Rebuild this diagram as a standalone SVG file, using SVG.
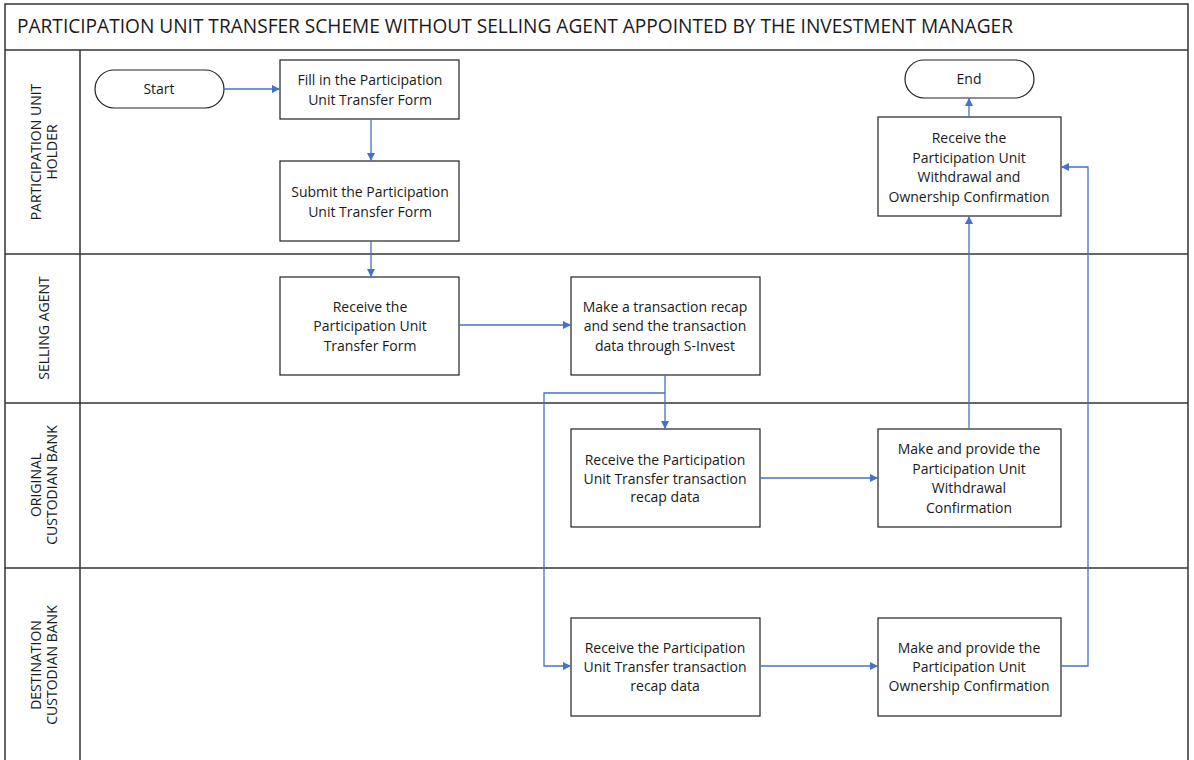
<svg xmlns="http://www.w3.org/2000/svg" width="1194" height="760" viewBox="0 0 1194 760">
<style>
.lane{fill:none;stroke:#333;stroke-width:1.5}
.box{fill:#fff;stroke:#222;stroke-width:1.2}
.t{font-family:"Open Sans","Noto Sans","DejaVu Sans",sans-serif;font-size:14px;fill:#1a1a1a;text-anchor:middle}
.lt{font-family:"Open Sans","Noto Sans","DejaVu Sans",sans-serif;font-size:14px;fill:#1a1a1a;text-anchor:middle}
.c{fill:none;stroke:#4472C4;stroke-width:1.3}
</style>
<defs>
<marker id="a" viewBox="0 0 10 10" refX="10" refY="5" markerWidth="8" markerHeight="8" markerUnits="userSpaceOnUse" orient="auto">
<path d="M0,0 L10,5 L0,10 z" fill="#4472C4"/>
</marker>
</defs>
<rect width="1194" height="760" fill="#fff"/>
<g id="lanes">
<rect class="lane" x="5" y="4" width="1183" height="770"/>
<line class="lane" x1="5" y1="50" x2="1188" y2="50"/>
<line class="lane" x1="5" y1="254" x2="1188" y2="254"/>
<line class="lane" x1="5" y1="403" x2="1188" y2="403"/>
<line class="lane" x1="5" y1="568" x2="1188" y2="568"/>
<line class="lane" x1="80" y1="50" x2="80" y2="760"/>
<text x="17" y="33" font-family="'Open Sans','Noto Sans',sans-serif" font-size="19.2" fill="#1a1a1a" textLength="996" lengthAdjust="spacingAndGlyphs">PARTICIPATION UNIT TRANSFER SCHEME WITHOUT SELLING AGENT APPOINTED BY THE INVESTMENT MANAGER</text>
<text class="lt" transform="translate(41,152) rotate(-90)">PARTICIPATION UNIT<tspan x="0" dy="16">HOLDER</tspan></text>
<text class="lt" transform="translate(49,328) rotate(-90)">SELLING AGENT</text>
<text class="lt" transform="translate(41,485) rotate(-90)">ORIGINAL<tspan x="0" dy="16">CUSTODIAN BANK</tspan></text>
<text class="lt" transform="translate(41,665) rotate(-90)">DESTINATION<tspan x="0" dy="16">CUSTODIAN BANK</tspan></text>
</g>
<g id="start"><rect class="box" x="95" y="70" width="129" height="38" rx="19"/><text class="t" x="159" y="94">Start</text></g>
<g id="fill"><rect class="box" x="280" y="60" width="179" height="59"/><text class="t" x="370" y="85">Fill in the Participation<tspan x="370" dy="19.5">Unit Transfer Form</tspan></text></g>
<g id="submit"><rect class="box" x="280" y="161" width="179" height="80"/><text class="t" x="370" y="197">Submit the Participation<tspan x="370" dy="19.5">Unit Transfer Form</tspan></text></g>
<g id="receiveSA"><rect class="box" x="280" y="277" width="179" height="98"/><text class="t" x="370" y="312">Receive the<tspan x="370" dy="19.3">Participation Unit</tspan><tspan x="370" dy="19.3">Transfer Form</tspan></text></g>
<g id="recap"><rect class="box" x="571" y="277" width="189" height="98"/><text class="t" x="665" y="312">Make a transaction recap<tspan x="665" dy="19.3">and send the transaction</tspan><tspan x="665" dy="19.3">data through S-Invest</tspan></text></g>
<g id="receiveOCB"><rect class="box" x="571" y="429" width="189" height="98"/><text class="t" x="665" y="465">Receive the Participation<tspan x="665" dy="18.7">Unit Transfer transaction</tspan><tspan x="665" dy="18.7">recap data</tspan></text></g>
<g id="makeOCB"><rect class="box" x="878" y="429" width="183" height="98"/><text class="t" x="969" y="454">Make and provide the<tspan x="969" dy="19.6">Participation Unit</tspan><tspan x="969" dy="19.6">Withdrawal</tspan><tspan x="969" dy="19.6">Confirmation</tspan></text></g>
<g id="receiveDCB"><rect class="box" x="571" y="618" width="189" height="98"/><text class="t" x="665" y="653">Receive the Participation<tspan x="665" dy="19">Unit Transfer transaction</tspan><tspan x="665" dy="19">recap data</tspan></text></g>
<g id="makeDCB"><rect class="box" x="878" y="618" width="183" height="98"/><text class="t" x="969" y="653">Make and provide the<tspan x="969" dy="19">Participation Unit</tspan><tspan x="969" dy="19">Ownership Confirmation</tspan></text></g>
<g id="receivePUH"><rect class="box" x="878" y="117" width="183" height="99"/><text class="t" x="969" y="143">Receive the<tspan x="969" dy="19.6">Participation Unit</tspan><tspan x="969" dy="19.6">Withdrawal and</tspan><tspan x="969" dy="19.6">Ownership Confirmation</tspan></text></g>
<g id="end"><rect class="box" x="905" y="60" width="129" height="38" rx="19"/><text class="t" x="969" y="84">End</text></g>
<g id="connectors">
<path class="c" d="M224,89 H280" marker-end="url(#a)"/>
<path class="c" d="M371,119 V161" marker-end="url(#a)"/>
<path class="c" d="M371,241 V277" marker-end="url(#a)"/>
<path class="c" d="M459,325 H571" marker-end="url(#a)"/>
<path class="c" d="M665,375 V429" marker-end="url(#a)"/>
<path class="c" d="M665,393 H544 V666 H571" marker-end="url(#a)"/>
<path class="c" d="M760,478 H878" marker-end="url(#a)"/>
<path class="c" d="M760,666 H878" marker-end="url(#a)"/>
<path class="c" d="M969,429 V216" marker-end="url(#a)"/>
<path class="c" d="M1061,666 H1088 V167 H1061" marker-end="url(#a)"/>
<path class="c" d="M969,117 V98" marker-end="url(#a)"/>
</g>
</svg>
